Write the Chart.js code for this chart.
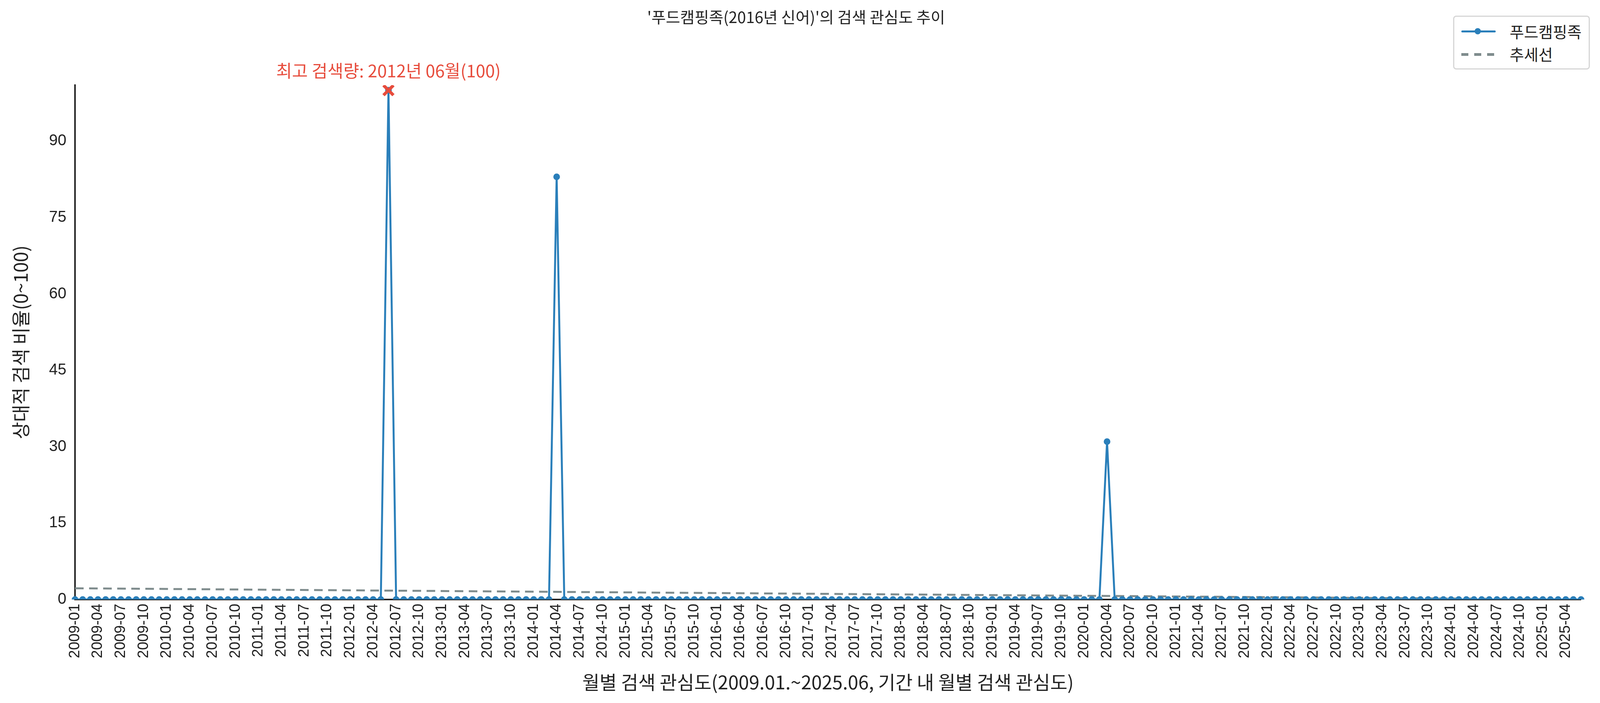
<!DOCTYPE html>
<html><head><meta charset="utf-8">
<script src="https://cdn.jsdelivr.net/npm/chart.js@4"></script>
<style>
html,body{margin:0;padding:0;background:#fff;width:100vw;height:100vh;overflow:hidden;}
#wrap{position:relative;width:100vw;height:100vh;}
#legend{position:absolute;right:0.64vw;top:2.2vh;border:3px solid #d6d6d6;border-radius:8px;background:#fff;padding:8px 18px;font-family:"Noto Sans CJK KR";font-size:40px;color:#222;}
.row{display:flex;align-items:center;height:58px;}
.sw{width:88px;height:20px;margin-right:36px;position:relative;}
</style></head><body>
<div id="wrap"><canvas id="c"></canvas>
<div id="legend">
<div class="row"><div class="sw"><div style="position:absolute;top:8px;left:0;width:88px;height:5px;background:#2a7fba;border-radius:3px"></div><div style="position:absolute;top:2px;left:34px;width:16px;height:16px;border-radius:50%;background:#2a7fba"></div></div>푸드캠핑족</div>
<div class="row"><div class="sw" style="background:repeating-linear-gradient(90deg,#7f8c8d 0 18px,transparent 18px 33px);height:7px;margin-top:4px"></div>추세선</div>
</div></div>
<script>
const startYear = 2009, endYear = 2025, endMonth = 6;
const peakMonths = ['2012-06','2014-04','2020-04'];
const peakValues = [100, 83, 31];
const trendStart = 2.2, trendEnd = 0.0;
const yTicks = [0,15,30,45,60,75,90];

const labels = [];
for (let y=startYear; y<=endYear; y++) for (let m=1; m<=12; m++) {
  if (y===endYear && m>endMonth) break;
  labels.push(y+'-'+String(m).padStart(2,'0'));
}
const values = labels.map(l => { const i = peakMonths.indexOf(l); return i>=0 ? peakValues[i] : 0; });
const trend = labels.map((l,i)=> i===0 ? trendStart : (i===labels.length-1 ? trendEnd : null));
const maxIdx = values.indexOf(Math.max(...values));
const maxMark = labels.map((l,i)=> i===maxIdx ? values[i] : null);

const F = '"Noto Sans CJK KR", "Noto Sans", sans-serif';
const annot = {
  id:'annot',
  afterDatasetsDraw(ch){
    const x = ch.scales.x.getPixelForValue(maxIdx), y = ch.scales.y.getPixelForValue(values[maxIdx]);
    const c = ch.ctx; c.save();
    c.fillStyle='#e74c3c'; c.font='44px '+F; c.textAlign='center'; c.textBaseline='bottom';
    c.fillText('최고 검색량: 2012년 06월(100)', x, y-28);
    c.restore();
  }
};
new Chart(document.getElementById('c'), {
  type:'line',
  data:{labels, datasets:[
    {label:'최고', data:maxMark, borderColor:'#e74c3c', backgroundColor:'#e74c3c', pointStyle:'crossRot', pointRadius:18, borderWidth:8, showLine:false, order:0},
    {label:'푸드캠핑족', data:values, borderColor:'#2a7fba', backgroundColor:'#2a7fba', borderWidth:5, pointRadius:6, pointHoverRadius:6, tension:0, order:1},
    {label:'추세선', data:trend, borderColor:'#7f8c8d', borderDash:[22,14], borderWidth:5, pointRadius:0, spanGaps:true, order:2}
  ]},
  options:{
    responsive:true, maintainAspectRatio:false, animation:false,
    layout:{padding:{left:20,right:40,top:20,bottom:20}},
    plugins:{
      legend:{display:false}, tooltip:{enabled:false},
      title:{display:true, text:"'푸드캠핑족(2016년 신어)'의 검색 관심도 추이", font:{family:F,size:40,weight:'normal'}, color:'#222', padding:{top:0,bottom:150}}
    },
    scales:{
      x:{offset:false, grid:{display:false}, border:{color:'#222',width:4},
        ticks:{autoSkip:false, maxRotation:90, minRotation:90, color:'#222', font:{family:'"Liberation Sans", sans-serif', size:38},
          callback:(v,i)=> i%3===0 ? labels[i] : ''},
        title:{display:true, text:'월별 검색 관심도(2009.01.~2025.06, 기간 내 월별 검색 관심도)', font:{family:F,size:48}, color:'#222', padding:{top:30}}},
      y:{min:0, max:101, grid:{display:false}, border:{color:'#222',width:4},
        afterBuildTicks:(s)=>{ s.ticks = yTicks.map(v=>({value:v})); },
        ticks:{color:'#222', font:{family:'"Liberation Sans", sans-serif', size:40}, padding:14},
        title:{display:true, text:'상대적 검색 비율(0~100)', font:{family:F,size:48}, color:'#222', padding:{bottom:30}}}
    }
  },
  plugins:[annot]
});
</script></body></html>
